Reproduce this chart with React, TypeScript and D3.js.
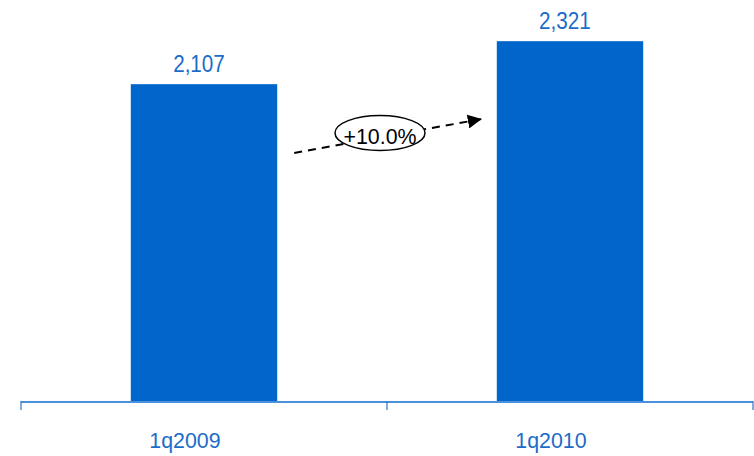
import React from "react";
import * as d3 from "d3";

const categories = ["1q2009", "1q2010"];
const values = [2107, 2321];
const changeLabel = "+10.0%";

const W = 754;
const H = 456;

export default function App() {
  const x = d3.scaleBand<string>().domain(categories).range([21, 753]).paddingInner(0).paddingOuter(0);
  const barW = x.bandwidth() * 0.4;
  const y = d3.scaleLinear().domain([525, 2526]).range([402, 0]);
  const fmt = d3.format(",");
  const font = "'Liberation Sans', Arial, sans-serif";

  const b0 = x(categories[0])! + x.bandwidth() / 2 + barW / 2;
  const b1 = x(categories[1])! + x.bandwidth() / 2 - barW / 2;
  const ax1 = b0 + 17;
  const ay1 = 153;
  const ax2 = b1 - 15;
  const ay2 = 119;
  const cx = 380;
  const cy = 133;

  return (
    <svg width={W} height={H} style={{ position: "absolute", left: 0, top: 0 }}>
      <defs>
        <marker id="arr" viewBox="0 0 10 10" refX="10" refY="5" markerWidth="7" markerHeight="7" orient="auto" markerUnits="strokeWidth">
          <path d="M0,0 L10,5 L0,10 z" fill="#000" />
        </marker>
      </defs>
      <rect width={W} height={H} fill="#fff" />
      {categories.map((c, i) => {
        const cxb = x(c)! + x.bandwidth() / 2;
        return (
          <g key={c}>
            <rect x={cxb - barW / 2} y={y(values[i])} width={barW} height={y(y.domain()[0]) - y(values[i])} fill="#0066CC" />
            <text x={cxb - 5} y={y(values[i]) - 12} textAnchor="middle" fontFamily={font} fontSize={23.5} fill="#1a6cc8" transform={`translate(${cxb - 5},0) scale(0.88,1) translate(${-(cxb - 5)},0)`}>
              {fmt(values[i])}
            </text>
            <text x={cxb - 19} y={448} textAnchor="middle" fontFamily={font} fontSize={22.5} fill="#1a6cc8" transform={`translate(${cxb - 19},0) scale(0.95,1) translate(${-(cxb - 19)},0)`}>
              {c}
            </text>
          </g>
        );
      })}
      <line x1={21} x2={753} y1={402} y2={402} stroke="#4a90dc" strokeWidth={2} />
      {[21, 387, 753].map((t) => (
        <line key={t} x1={t} x2={t} y1={401} y2={410} stroke="#2a78cc" strokeWidth={1.2} />
      ))}
      <line x1={ax1} y1={ay1} x2={ax2} y2={ay2} stroke="#000" strokeWidth={2} strokeDasharray="8,6" markerEnd="url(#arr)" />
      <ellipse cx={cx} cy={cy} rx={45} ry={17.5} fill="#fff" stroke="#000" strokeWidth={1.5} />
      <text x={cx} y={144.5} textAnchor="middle" fontFamily={font} fontSize={22.5} fill="#000" transform={`translate(${cx},0) scale(0.95,1) translate(${-cx},0)`}>
        {changeLabel}
      </text>
    </svg>
  );
}
